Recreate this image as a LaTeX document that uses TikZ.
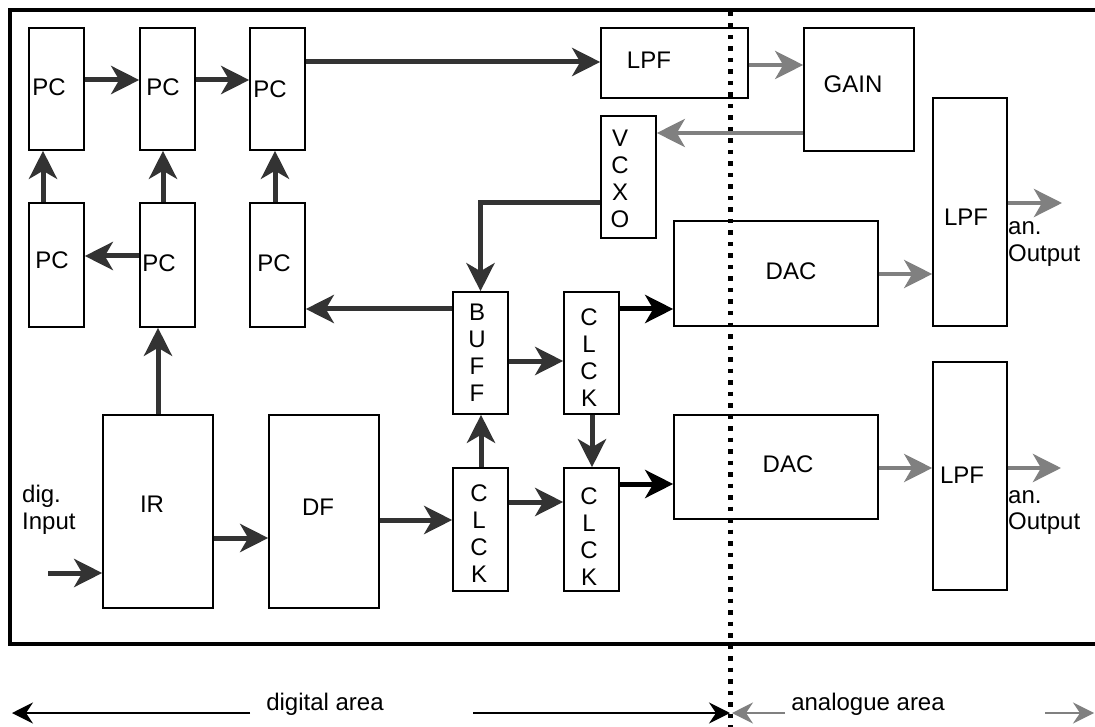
\documentclass[tikz,border=0pt]{standalone}
\usepackage{fontspec}
\setmainfont{Liberation Sans}
\usetikzlibrary{arrows.meta}
\definecolor{dk}{HTML}{333333}
\definecolor{gr}{HTML}{808080}
\tikzset{
  box/.style={draw=black, line width=1.6pt, inner sep=0pt, fill=white},
  lbl/.style={inner sep=0pt, font=\fontsize{24}{27}\selectfont, align=center},
  darr/.style={draw=dk, line width=5pt, -{Stealth[length=28pt,width=28pt,inset=8pt]}},
  barr/.style={draw=black, line width=5pt, -{Stealth[length=28pt,width=28pt,inset=8pt]}},
  garr/.style={draw=gr, line width=4.5pt, -{Stealth[length=28pt,width=28pt,inset=8pt]}},
  thinb/.style={draw=black, line width=1.6pt, -{Stealth[length=21pt,width=21pt,inset=7pt]}},
  thing/.style={draw=gr, line width=1.6pt, -{Stealth[length=21pt,width=21pt,inset=7pt]}},
}
\newcommand\blk[5]{\node[box, minimum width={(#4)-(#2)}, minimum height={(#5)-(#3)}] (#1) at ({((#2)+(#4))/2},{((#3)+(#5))/2}) {};}
\begin{document}
\begin{tikzpicture}[x=1pt,y=-1pt]
\useasboundingbox (0,0) rectangle (1095,727);
\clip (0,0) rectangle (1095,727);
\fill[white] (0,0) rectangle (1095,727);
% frame
\draw[line width=4.5pt] (10,10) rectangle (1120,644);
% boxes
\blk{pc1}{29}{28}{84}{150}
\blk{pc2}{140}{28}{195}{150}
\blk{pc3}{250}{28}{305}{150}
\blk{pc4}{29}{203}{84}{327}
\blk{pc5}{140}{203}{195}{327}
\blk{pc6}{250}{203}{305}{327}
\blk{lpf1}{601}{28}{748}{98}
\blk{vcxo}{601}{116}{656}{238}
\blk{gain}{804}{28}{914}{151}
\blk{lpf2}{933}{98}{1007}{326}
\blk{dac1}{674}{221}{878}{326}
\blk{buff}{453}{292}{508}{414}
\blk{clk1}{564}{292}{619}{414}
\blk{clk2}{453}{468}{508}{591}
\blk{clk3}{564}{468}{619}{591}
\blk{dac2}{674}{415}{878}{519}
\blk{lpf3}{933}{362}{1007}{590}
\blk{ir}{103}{415}{213}{608}
\blk{df}{269}{415}{379}{608}
% labels
\node[lbl] (t1) at (49,87) {PC};
\node[lbl] (t2) at (163,87) {PC};
\node[lbl] (t3) at (270,89) {PC};
\node[lbl] (t4) at (52,260) {PC};
\node[lbl] (t5) at (159,263) {PC};
\node[lbl] (t6) at (274,263) {PC};
\node[lbl] (tlpf1) at (649,60) {LPF};
\node[lbl] (tvcxo) at (620,179) {V\\C\\X\\O};
\node[lbl] (tgain) at (853,84) {GAIN};
\node[lbl] (tlpf2) at (966,217) {LPF};
\node[lbl] (tdac1) at (791,271) {DAC};
\node[lbl] (tdac2) at (788,464) {DAC};
\node[lbl] (tbuff) at (477,353) {B\\U\\F\\F};
\node[lbl] (tclk1) at (589,357.5) {C\\L\\C\\K};
\node[lbl] (tclk2) at (479,534) {C\\L\\C\\K};
\node[lbl] (tclk3) at (589,536.5) {C\\L\\C\\K};
\node[lbl] (tlpf3) at (962,475) {LPF};
\node[lbl] (tir) at (152,504) {IR};
\node[lbl] (tdf) at (318,507) {DF};
\node[lbl, anchor=base west] (o1a) at (1008,235) {an.};
\node[lbl, anchor=base west] (o1b) at (1008,262) {Output};
\node[lbl, anchor=base west] (o2a) at (1008,503) {an.};
\node[lbl, anchor=base west] (o2b) at (1008,529) {Output};
\node[lbl, anchor=base west] (i1) at (22,502) {dig.};
\node[lbl, anchor=base west] (i2) at (22,529) {Input};
\node[lbl, anchor=base] (dig) at (325,710) {digital area};
\node[lbl, anchor=base] (ana) at (868,710) {analogue area};
% free ends
\coordinate (in) at (48,573);
\coordinate (out1) at (1062,203);
\coordinate (out2) at (1061,468);
\coordinate (dl1) at (250,713);
\coordinate (dl0) at (12,713);
\coordinate (dr1) at (473,713);
\coordinate (dr0) at (730,713);
\coordinate (al1) at (785,713);
\coordinate (al0) at (732,713);
\coordinate (ar1) at (1045,713);
\coordinate (ar0) at (1094,713);
% dark arrows
\draw[darr] (pc1.east |- 0,80) -- (pc2.west |- 0,80);
\draw[darr] (pc2.east |- 0,80) -- (pc3.west |- 0,80);
\draw[darr] (pc4.north -| 43,0) -- (pc1.south -| 43,0);
\draw[darr] (pc5.north -| 163,0) -- (pc2.south -| 163,0);
\draw[darr] (pc6.north -| 275,0) -- (pc3.south -| 275,0);
\draw[darr] (pc5.west |- 0,256) -- (pc4.east |- 0,256);
\draw[darr] (pc3.east |- 0,62) -- (lpf1.west |- 0,62);
\draw[darr] (ir.north -| 158,0) -- (pc5.south -| 158,0);
\draw[darr] (in) -- (ir.west |- in);
\draw[darr] (ir.east |- 0,538) -- (df.west |- 0,538);
\draw[darr] (df.east |- 0,520) -- (clk2.west |- 0,520);
\draw[darr] (clk2.north -| 481,0) -- (buff.south -| 481,0);
\draw[darr] (clk2.east |- 0,502) -- (clk3.west |- 0,502);
\draw[darr] (buff.east |- 0,361) -- (clk1.west |- 0,361);
\draw[darr] (clk1.south -| 592,0) -- (clk3.north -| 592,0);
\draw[darr] (buff.west |- 0,309) -- (pc6.east |- 0,309);
\draw[darr] (vcxo.west |- 0,203) -| (buff.north);
% black arrows
\draw[barr] (clk1.east |- 0,309) -- (dac1.west |- 0,309);
\draw[barr] (clk3.east |- 0,484) -- (dac2.west |- 0,484);
% grey arrows
\draw[garr] (lpf1.east |- 0,65) -- (gain.west |- 0,65);
\draw[garr] (gain.west |- 0,133) -- (vcxo.east |- 0,133);
\draw[garr] (dac1.east |- 0,274) -- (lpf2.west |- 0,274);
\draw[garr] (lpf2.east |- out1) -- (out1);
\draw[garr] (dac2.east |- 0,468) -- (lpf3.west |- 0,468);
\draw[garr] (lpf3.east |- out2) -- (out2);
% bottom area arrows
\draw[thinb] (dl1) -- (dl0);
\draw[thinb] (dr1) -- (dr0);
\draw[thing] (al1) -- (al0);
\draw[thing] (ar1) -- (ar0);
% boundary dotted line
\draw[line width=5pt, dash pattern=on 4.5pt off 7pt] (730,12) -- (730,727);
\end{tikzpicture}
\end{document}
